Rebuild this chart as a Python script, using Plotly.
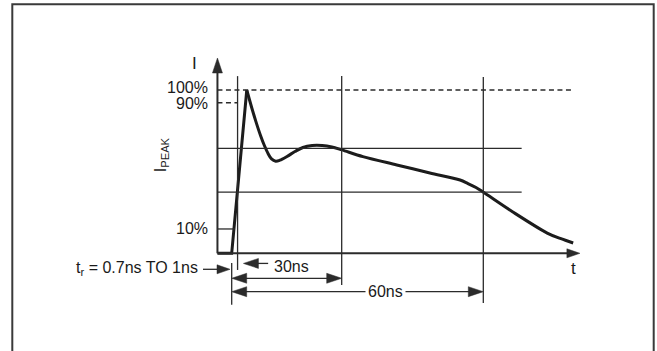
import plotly.graph_objects as go

# ---------------- data (time in ns, current in % of I_PEAK) ----------------
rise_t = [-3.4, 0.0, 3.6]
rise_i = [0.0, 0.0, 100.0]

decay_t = [3.6, 4.8, 5.8, 6.9, 7.8, 8.7, 9.5, 10.5, 11.5, 13.2, 15.1, 17.0, 19.2, 21.6,
           23.9, 26.3, 31.3, 39.4, 47.3, 54.5, 56.4, 58.3, 60.0, 67.1, 75.3, 78.4, 81.5]
decay_i = [100.0, 89.0, 80.5, 72.0, 66.0, 61.0, 57.8, 56.4, 57.0, 59.3, 62.3, 64.8, 66.0, 66.0,
           65.1, 63.3, 59.2, 54.1, 49.2, 44.9, 42.7, 40.3, 37.5, 25.3, 12.4, 9.1, 6.3]

axis_t = -3.4            # time position of the I axis
axis_top = 119.6         # I value of the axis arrow tip
t_axis_end = 83.1        # time value of the t axis arrow tip

peak_level = 100.0
peak_line_end = 81.5
level_90 = 92.2
level_90_end = 1.3
level_10 = 14.9
level_10_end = 0.8
ref_levels = [64.3, 37.5]
ref_levels_end = 69.2

mark_t = [1.4, 26.25, 60.05]          # vertical marker lines
mark_top = [108.5, 108.5, 108.0]
mark_bottom = [-10.2, -19.4, -30.4]

pct_labels = ["100%", "90%", "10%"]
pct_label_i = [101.5, 92.0, 15.2]

span_30 = [0.0, 26.25]
span_60 = [0.0, 60.05]
span_30_i = -15.3
span_60_i = -23.5

# ---------------- pixel geometry helpers ----------------
W, H = 657, 351
X0, Y0 = 231.7, 253.3      # pixel position of t=0, I=0
SX, SY = 4.19, 1.633       # px per ns, px per %

def dx(px):
    return px / SX

def dy(px):
    return px / SY

LINE = "#2b2b2b"
WAVE = "#1c1c1c"
FONT = "Liberation Sans, Arial, Helvetica, sans-serif"

fig = go.Figure()
shapes = []
annotations = []

def seg(x0, y0, x1, y1, width=1.3, color=LINE, dash="solid"):
    shapes.append(dict(type="line", xref="x", yref="y", x0=x0, y0=y0, x1=x1, y1=y1,
                       line=dict(color=color, width=width, dash=dash)))

def arrowhead(tx, ty, direction, L=15, Wd=5, color=LINE):
    if direction == "right":
        b = tx - dx(L)
        pts = [(b, ty + dy(Wd)), (tx, ty), (b, ty - dy(Wd))]
    elif direction == "left":
        b = tx + dx(L)
        pts = [(b, ty + dy(Wd)), (tx, ty), (b, ty - dy(Wd))]
    else:  # up
        b = ty - dy(L)
        pts = [(tx - dx(Wd), b), (tx, ty), (tx + dx(Wd), b)]
    path = "M {} {} L {} {} L {} {} Z".format(pts[0][0], pts[0][1], pts[1][0], pts[1][1],
                                             pts[2][0], pts[2][1])
    shapes.append(dict(type="path", xref="x", yref="y", path=path,
                       fillcolor=color, line=dict(color=color, width=0.5)))

# axes
seg(axis_t, 0, axis_t, axis_top - dy(10), width=2)
arrowhead(axis_t, axis_top, "up", L=15, Wd=5)
seg(axis_t, 0, t_axis_end - dx(8), 0, width=2)
arrowhead(t_axis_end, 0, "right", L=13, Wd=4.5)

# reference lines
seg(axis_t, peak_level, peak_line_end, peak_level, dash="5px,3.5px")
seg(axis_t, level_90, level_90_end, level_90, dash="5px,3.5px")
seg(axis_t, level_10, level_10_end, level_10)
for lv in ref_levels:
    seg(axis_t, lv, ref_levels_end, lv)
for t, top, bot in zip(mark_t, mark_top, mark_bottom):
    seg(t, top, t, bot)
seg(0, -6.0, 0, -31.5)

# dimension arrows
for span, lv in ((span_30, span_30_i), (span_60, span_60_i)):
    seg(span[0] + dx(5), lv, span[1] - dx(5), lv)
    arrowhead(span[0], lv, "left")
    arrowhead(span[1], lv, "right")

# tr arrow
tr_i = -9.8
seg(-6.85, tr_i, -0.4 - dx(6), tr_i)
arrowhead(-0.4, tr_i, "right", L=13, Wd=4.5)
# 30ns pointer arrow
p30_i = -6.2
seg(2.8 + dx(6), p30_i, 8.7, p30_i)
arrowhead(2.8, p30_i, "left", L=15, Wd=5)

# waveform
fig.add_trace(go.Scatter(x=rise_t, y=rise_i, mode="lines",
                         line=dict(color=WAVE, width=3), hoverinfo="skip"))
fig.add_trace(go.Scatter(x=decay_t, y=decay_i, mode="lines",
                         line=dict(color=WAVE, width=3, shape="spline", smoothing=0.9),
                         hoverinfo="skip"))

def text(x, y, s, size=16, xanchor="center", yanchor="middle", angle=0, bg=None):
    a = dict(x=x, y=y, xref="x", yref="y", text=s, showarrow=False,
             xanchor=xanchor, yanchor=yanchor, textangle=angle,
             font=dict(family=FONT, size=size, color="#1a1a1a"))
    if bg:
        a["bgcolor"] = bg
        a["borderpad"] = 2
    annotations.append(a)

lab_x = axis_t - dx(7)
for s, v in zip(pct_labels, pct_label_i):
    text(lab_x, v, s, xanchor="right")
text(axis_t - dx(23), 116.5, "I", size=17)
text(-16.9, 60.6, "I<sub>PEAK</sub>", size=16, angle=-90)
text(81.6, -9.2, "t", size=17)
text(-7.52, -9.6, "t<sub>r</sub> = 0.7ns TO 1ns", xanchor="right")
text(9.5, -7.8, "30ns", xanchor="left")
text(36.8, span_60_i, "60ns", bg="white")

# outer frame (open at the bottom)
shapes.append(dict(type="path", xref="paper", yref="paper",
                   path="M {} {} L {} {} L {} {} L {} {}".format(
                       12.3 / W, -0.05, 12.3 / W, 1 - 4.3 / H,
                       653.7 / W, 1 - 4.3 / H, 653.7 / W, -0.05),
                   line=dict(color="#3a3a3a", width=2)))

fig.update_layout(
    width=W, height=H, autosize=False,
    margin=dict(l=0, r=0, t=0, b=0, pad=0),
    paper_bgcolor="white", plot_bgcolor="white",
    showlegend=False,
    xaxis=dict(range=[-X0 / SX, (W - X0) / SX], visible=False, fixedrange=True),
    yaxis=dict(range=[(Y0 - H) / SY, Y0 / SY], visible=False, fixedrange=True),
    shapes=shapes, annotations=annotations,
)

fig.write_html("out.html", config={"displayModeBar": False},
               post_script="document.body.style.margin='0';document.body.style.overflow='hidden';")
